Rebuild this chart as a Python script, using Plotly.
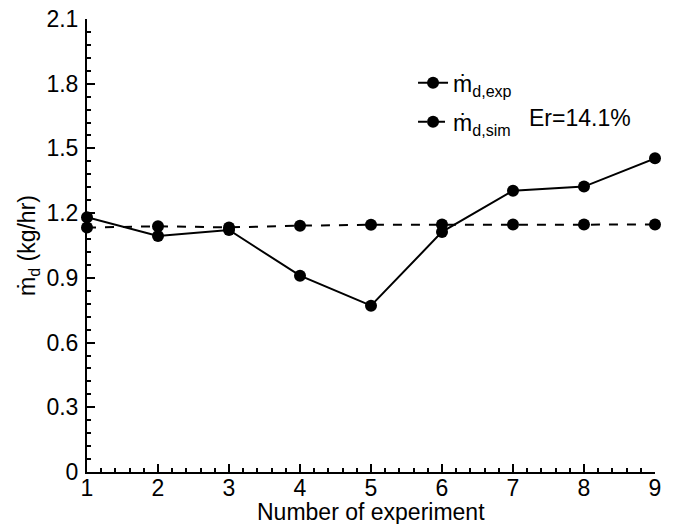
import plotly.graph_objects as go

experiments = [1, 2, 3, 4, 5, 6, 7, 8, 9]
md_exp = [1.181, 1.094, 1.122, 0.910, 0.771, 1.113, 1.304, 1.323, 1.454]
md_sim = [1.133, 1.139, 1.134, 1.142, 1.146, 1.147, 1.147, 1.147, 1.147]
y_ticks = [0, 0.3, 0.6, 0.9, 1.2, 1.5, 1.8, 2.1]
y_ticklabels = ["0", "0.3", "0.6", "0.9", "1.2", "1.5", "1.8", "2.1"]
x_ticks = [1, 2, 3, 4, 5, 6, 7, 8, 9]

FONT = "Liberation Sans, Arial, sans-serif"
FS = 23

fig = go.Figure()
fig.add_trace(go.Scatter(
    x=experiments, y=md_exp, mode="lines+markers",
    name="ṁ<sub>d,exp</sub>",
    line=dict(color="black", width=2, dash="solid"),
    marker=dict(color="black", size=12),
    cliponaxis=False, legend="legend", showlegend=True,
))
fig.add_trace(go.Scatter(
    x=experiments, y=md_sim, mode="lines+markers",
    name="ṁ<sub>d,sim</sub>",
    line=dict(color="black", width=2, dash="dash"),
    marker=dict(color="black", size=12),
    cliponaxis=False, legend="legend2", showlegend=True,
))

fig.add_annotation(
    x=0.774, y=0.781, xref="paper", yref="paper", xanchor="left", yanchor="middle",
    text="Er=14.1%", showarrow=False, font=dict(size=FS, color="black", family=FONT),
)
# x-axis title placed below tick labels
fig.add_annotation(
    x=0.5, y=0, xref="paper", yref="paper", xanchor="center", yanchor="top", yshift=-25,
    text="Number of experiment", showarrow=False, font=dict(size=FS, color="black", family=FONT),
)

leg_common = dict(
    xanchor="left", yanchor="middle",
    bgcolor="rgba(0,0,0,0)", font=dict(size=FS, family=FONT, color="black"),
    itemwidth=30, visible=True,
)

fig.update_layout(
    width=673, height=524,
    margin=dict(l=87, r=18, t=19, b=52),
    paper_bgcolor="white", plot_bgcolor="white",
    font=dict(family=FONT, color="black", size=FS),
    showlegend=True,
    legend=dict(x=0.574, y=0.859, **leg_common),
    legend2=dict(x=0.574, y=0.773, **leg_common),
    xaxis=dict(
        range=[1, 9], tickvals=x_ticks, ticktext=[str(v) for v in x_ticks],
        ticks="inside", ticklen=8, tickwidth=2, tickcolor="black",
        showline=True, linewidth=2, linecolor="black", mirror=False,
        showgrid=False, zeroline=False, automargin=False,
        minor=dict(ticks="inside", ticklen=4, tickwidth=1.5, dtick=0.2, tickcolor="black", showgrid=False),
        tickfont=dict(size=FS), ticklabelstandoff=-6,
    ),
    yaxis=dict(
        range=[0, 2.1], tickvals=y_ticks, ticktext=y_ticklabels,
        ticks="inside", ticklen=8, tickwidth=2, tickcolor="black",
        showline=True, linewidth=2, linecolor="black", mirror=False,
        showgrid=False, zeroline=False, automargin=False,
        minor=dict(ticks="inside", ticklen=4, tickwidth=1.5, dtick=0.06, tick0=0, tickcolor="black", showgrid=False),
        title=dict(text="ṁ<sub>d</sub> (kg/hr)", font=dict(size=FS), standoff=4),
        tickfont=dict(size=FS), ticklabelstandoff=2,
    ),
)

fig.write_html("out.html")
